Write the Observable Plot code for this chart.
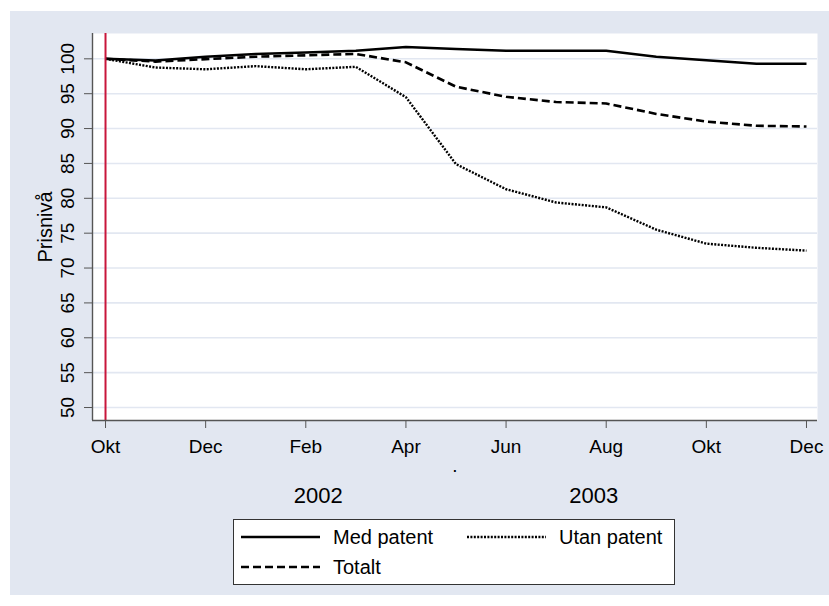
<!DOCTYPE html>
<html><head><meta charset="utf-8">
<script src="https://cdn.jsdelivr.net/npm/d3@7"></script>
<script src="https://cdn.jsdelivr.net/npm/@observablehq/plot@0.6"></script>
<style>
body{margin:0;background:#fff;font-family:"Liberation Sans",Arial,sans-serif;}
#wrap{position:absolute;left:10px;top:11px;width:819px;height:584px;background:#E2E7F1;}
#chart{position:absolute;left:0;top:0;}
#legend{position:absolute;left:223px;top:508px;width:433px;height:62px;padding:2px 0 0 7px;background:#fff;border:1px solid #333;display:grid;grid-template-columns:226px auto;grid-auto-rows:30px;font-size:20px;color:#000;}
.item{display:flex;align-items:center;line-height:30px;white-space:nowrap;}
.item svg{margin-right:13px;flex:none;}
</style></head>
<body><div id="wrap"><div id="chart"></div><div id="legend"></div></div>
<script>
// Monthly observations, Okt 2002 – Dec 2003
const months = ["Okt","Nov","Dec","Jan","Feb","Mar","Apr","Maj","Jun","Jul","Aug","Sep","Okt","Nov","Dec"];
const medPatent  = [100, 99.75, 100.3, 100.7, 100.9, 101.15, 101.7, 101.4, 101.15, 101.15, 101.15, 100.3, 99.8, 99.3, 99.3];
const utanPatent = [100, 98.75, 98.5, 98.95, 98.5, 98.85, 94.5, 84.9, 81.3, 79.4, 78.7, 75.5, 73.5, 72.9, 72.5];
const totalt     = [100, 99.6, 99.95, 100.3, 100.5, 100.7, 99.5, 96.0, 94.55, 93.8, 93.6, 92.1, 91.0, 90.4, 90.3];
const seriesNames = ["Med patent", "Utan patent", "Totalt"];
const xTickIdx = [0, 2, 4, 6, 8, 10, 12, 14];
const xTickLabels = ["Okt","Dec","Feb","Apr","Jun","Aug","Okt","Dec"];
const yTicks = [50, 55, 60, 65, 70, 75, 80, 85, 90, 95, 100];
const yearPos = [4.25, 9.75];
const yearLabels = ["2002", "2003"];
const markerIdx = [0];
const yTitle = "Prisnivå";

const styles = {
  "Med patent":  {dash: "none", width: 2.4},
  "Utan patent": {dash: "2 1.4", width: 2.4},
  "Totalt":      {dash: "8 4", width: 2.6}
};
const values = {"Med patent": medPatent, "Utan patent": utanPatent, "Totalt": totalt};
const rows = seriesNames.flatMap(s => months.map((m, i) => ({i, month: m, value: values[s][i], series: s})));

const xDomain = [-0.26, 14.22];
const yDomain = [48.14, 103.63];
const gridColor = "#E2E7F1";
const axisColor = "#555";

const chart = Plot.plot({
  width: 819, height: 504,
  marginLeft: 82, marginRight: 12, marginTop: 22, marginBottom: 95,
  style: {background: "transparent", fontFamily: '"Liberation Sans", Arial, sans-serif', color: "#000"},
  x: {domain: xDomain},
  y: {domain: yDomain},
  marks: [
    Plot.frame({fill: "white", stroke: null}),
    Plot.gridY(yTicks, {stroke: gridColor, strokeOpacity: 1, strokeWidth: 1.6}),
    ...seriesNames.map(s => Plot.lineY(rows.filter(r => r.series === s), {
      x: "i", y: "value", stroke: "#000", strokeWidth: styles[s].width,
      strokeDasharray: styles[s].dash, strokeLinecap: "butt", strokeLinejoin: "round"
    })),
    Plot.ruleX(markerIdx, {stroke: "#C8163B", strokeWidth: 2}),
    Plot.ruleX([xDomain[0]], {stroke: axisColor, strokeWidth: 1.4}),
    Plot.ruleY([yDomain[0]], {stroke: axisColor, strokeWidth: 1.4}),
    Plot.axisY(yTicks, {tickRotate: -90, tickSize: 8, tickPadding: 11, fontSize: 19, stroke: axisColor,
      fill: "#000", label: null}),
    Plot.text([yTitle], {text: d => d, frameAnchor: "left", rotate: -90, dx: -55, lineAnchor: "top",
      textAnchor: "middle", fontSize: 20, fill: "#000"}),
    Plot.axisX(xTickIdx, {tickFormat: d => xTickLabels[xTickIdx.indexOf(d)], tickSize: 8, tickPadding: 11,
      fontSize: 19, stroke: axisColor, fill: "#000", label: ".", labelAnchor: "center", labelOffset: 51, labelArrow: "none"}),
    Plot.axisX(yearPos, {tickFormat: d => yearLabels[yearPos.indexOf(d)], tickSize: 0, tickPadding: 67,
      fontSize: 22, fill: "#000", label: null})
  ]
});
document.getElementById("chart").appendChild(chart);

// Legend
const legend = document.getElementById("legend");
for (const s of seriesNames) {
  const item = document.createElement("div");
  item.className = "item";
  const st = styles[s];
  item.innerHTML = `<svg width="79" height="10"><line x1="0" x2="79" y1="5" y2="5" stroke="#000" stroke-width="${st.width}" stroke-dasharray="${st.dash}"/></svg><span>${s}</span>`;
  legend.appendChild(item);
}
</script>
</body></html>
